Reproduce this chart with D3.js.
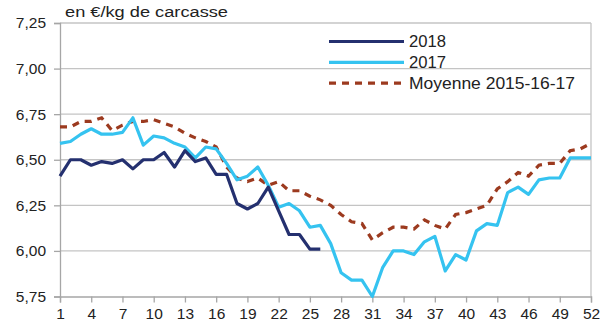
<!DOCTYPE html>
<html>
<head>
<meta charset="utf-8">
<script src="https://cdn.jsdelivr.net/npm/d3@7"></script>
<style>
  html, body { margin: 0; padding: 0; background: #fff; }
  svg { display: block; font-family: "Liberation Sans", Arial, sans-serif; }
</style>
</head>
<body>
<svg id="chart" width="614" height="329"></svg>
<script>
// Weekly pig carcass price, €/kg
const weeks = d3.range(1, 53);
const xTickLabels = [1, 4, 7, 10, 13, 16, 19, 22, 25, 28, 31, 34, 37, 40, 43, 46, 49, 52];
const yTickValues = [5.75, 6.00, 6.25, 6.50, 6.75, 7.00, 7.25];

const values2018 = [6.41, 6.50, 6.50, 6.47, 6.49, 6.48, 6.50, 6.45, 6.50, 6.50,
  6.54, 6.46, 6.55, 6.49, 6.51, 6.42, 6.42, 6.26, 6.23, 6.26,
  6.35, 6.22, 6.09, 6.09, 6.01, 6.01];

const values2017 = [6.59, 6.60, 6.64, 6.67, 6.64, 6.64, 6.65, 6.73, 6.58, 6.63,
  6.62, 6.59, 6.57, 6.51, 6.57, 6.56, 6.48, 6.39, 6.41, 6.46,
  6.36, 6.24, 6.26, 6.22, 6.13, 6.14, 6.04, 5.88, 5.84, 5.84,
  5.75, 5.91, 6.00, 6.00, 5.98, 6.05, 6.08, 5.89, 5.98, 5.95,
  6.11, 6.15, 6.14, 6.32, 6.35, 6.31, 6.39, 6.40, 6.40, 6.51,
  6.51, 6.51];

const valuesAvg = [6.68, 6.68, 6.71, 6.71, 6.73, 6.66, 6.69, 6.71, 6.71, 6.72,
  6.70, 6.68, 6.645, 6.62, 6.60, 6.57, 6.46, 6.40, 6.38, 6.40,
  6.36, 6.38, 6.33, 6.33, 6.30, 6.28, 6.25, 6.20, 6.16, 6.15,
  6.06, 6.10, 6.13, 6.13, 6.12, 6.17, 6.14, 6.12, 6.20, 6.21,
  6.23, 6.25, 6.34, 6.38, 6.43, 6.41, 6.47, 6.48, 6.48, 6.55,
  6.56, 6.59];

const seriesNames = ["2018", "2017", "Moyenne 2015-16-17"];
const unitLabel = "en €/kg de carcasse";

const colors = { s2018: "#24306f", s2017: "#35c3f0", avg: "#9c3a1f" };

const svg = d3.select("#chart");
const plotLeft = 60, plotRight = 591, plotTop = 23, plotBottom = 296.5;

const x = d3.scaleLinear().domain([1, 52]).range([plotLeft, plotRight]);
const y = d3.scaleLinear().domain([5.75, 7.25]).range([plotBottom, plotTop]);

// horizontal gridlines
svg.append("g")
  .selectAll("line")
  .data(yTickValues.filter(v => v > 5.75))
  .join("line")
  .attr("x1", plotLeft).attr("x2", plotRight)
  .attr("y1", d => y(d)).attr("y2", d => y(d))
  .attr("stroke", "#c4c4c4").attr("stroke-width", 1.3);

// right border
svg.append("line")
  .attr("x1", plotRight).attr("x2", plotRight).attr("y1", plotTop).attr("y2", plotBottom)
  .attr("stroke", "#c4c4c4").attr("stroke-width", 1.3);

const fmt = v => d3.format(".2f")(v).replace(".", ",");

// y axis
const yAxis = svg.append("g")
  .attr("transform", `translate(${plotLeft},0)`)
  .call(d3.axisLeft(y).tickValues(yTickValues).tickFormat(fmt).tickSize(6).tickPadding(8));
yAxis.selectAll("text").attr("font-size", 15.5).attr("fill", "#222")
  .attr("font-family", "Liberation Sans, Arial, sans-serif");

// x axis
const xAxis = svg.append("g")
  .attr("transform", `translate(0,${plotBottom})`)
  .call(d3.axisBottom(x).tickValues(xTickLabels).tickFormat(d3.format("d")).tickSize(6).tickPadding(5));
xAxis.selectAll("text").attr("font-size", 15.5).attr("fill", "#222")
  .attr("font-family", "Liberation Sans, Arial, sans-serif");

[yAxis, xAxis].forEach(a => {
  a.select(".domain").attr("stroke", "#a6a6a6").attr("stroke-width", 1.3);
  a.selectAll(".tick line").attr("stroke", "#a6a6a6").attr("stroke-width", 1.3);
});

// series lines
const line = d3.line().x((d, i) => x(weeks[i])).y(d => y(d));

svg.append("path").datum(valuesAvg)
  .attr("d", line).attr("fill", "none")
  .attr("stroke", colors.avg).attr("stroke-width", 3.2)
  .attr("stroke-dasharray", "7,6");

svg.append("path").datum(values2017)
  .attr("d", line).attr("fill", "none")
  .attr("stroke", colors.s2017).attr("stroke-width", 3.2)
  .attr("stroke-linejoin", "round");

svg.append("path").datum(values2018)
  .attr("d", line).attr("fill", "none")
  .attr("stroke", colors.s2018).attr("stroke-width", 3.2)
  .attr("stroke-linejoin", "round");

// unit label (slightly wide lettering)
svg.append("text")
  .attr("x", 65).attr("y", 17)
  .attr("font-size", 15.5).attr("fill", "#222")
  .attr("textLength", 163).attr("lengthAdjust", "spacingAndGlyphs")
  .text(unitLabel);

// legend
const legend = [
  { name: seriesNames[0], color: colors.s2018, dash: null, w: 37 },
  { name: seriesNames[1], color: colors.s2017, dash: null, w: 37 },
  { name: seriesNames[2], color: colors.avg, dash: "7,6", w: 166 }
];
const lg = svg.append("g").selectAll("g").data(legend).join("g")
  .attr("transform", (d, i) => `translate(329,${41.5 + i * 20.8})`);
lg.append("line")
  .attr("x1", 0).attr("x2", 75).attr("y1", 0).attr("y2", 0)
  .attr("stroke", d => d.color).attr("stroke-width", 3.2)
  .attr("stroke-dasharray", d => d.dash);
lg.append("text")
  .attr("x", 80).attr("y", 5.8)
  .attr("font-size", 16).attr("fill", "#222")
  .attr("textLength", d => d.w).attr("lengthAdjust", "spacingAndGlyphs")
  .text(d => d.name);
</script>
</body>
</html>
